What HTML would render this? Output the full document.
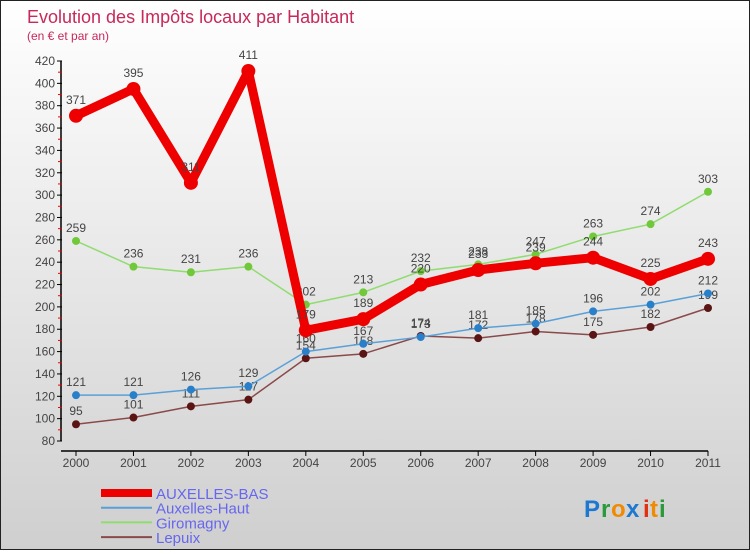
<!DOCTYPE html>
<html><head><meta charset="utf-8"><style>
html,body{margin:0;padding:0}
body{width:750px;height:550px;overflow:hidden;font-family:"Liberation Sans",sans-serif}
#wrap{position:relative;width:748px;height:548px;border:1px solid #222;background:linear-gradient(#ffffff,#cfcfcf)}
</style></head><body>
<div id="wrap">
<svg id="chart" width="748" height="548" xmlns="http://www.w3.org/2000/svg">
<text x="26" y="22" font-size="18" fill="#c8285a">Evolution des Impôts locaux par Habitant</text>
<text x="26" y="39" font-size="12" fill="#c8285a">(en € et par an)</text>
<g id="axes"></g><g id="series"></g><g id="legend"></g>
<g font-size="24" font-weight="bold">
<text x="583" y="516" fill="#1e78d2">P</text><text x="600" y="516" fill="#2a9a3a">r</text><text x="610" y="516" fill="#f08a00">o</text><text x="625" y="516" fill="#1e78d2">x</text><text x="642" y="516" fill="#e03010">i</text><text x="649" y="516" fill="#f08a00">t</text><text x="658" y="516" fill="#2a9a3a">i</text>
</g>
</svg>
</div>
<script>
const years=["2000","2001","2002","2003","2004","2005","2006","2007","2008","2009","2010","2011"];
const yTicks=[80,100,120,140,160,180,200,220,240,260,280,300,320,340,360,380,400,420];
const auxellesBas=[371,395,311,411,179,189,220,233,239,244,225,243];
const auxellesHaut=[121,121,126,129,160,167,173,181,185,196,202,212];
const giromagny=[259,236,231,236,202,213,232,238,247,263,274,303];
const lepuix=[95,101,111,117,154,158,174,172,178,175,182,199];
const NS="http://www.w3.org/2000/svg";
const x=i=>75+i*(632/11);
const y=v=>440-(v-80)*(380/340);
function mk(t,a,p){const e=document.createElementNS(NS,t);for(const k in a)e.setAttribute(k,a[k]);p.appendChild(e);return e;}
const ax=document.getElementById('axes');
let l=mk('line',{x1:60,y1:y(80),x2:60,y2:y(420),stroke:'#000','stroke-width':1.5},ax);


l=mk('line',{x1:60,y1:450,x2:x(11),y2:450,stroke:'#000','stroke-width':1.5},ax);


yTicks.forEach((v,i)=>{
  mk('line',{x1:56,y1:y(v),x2:61,y2:y(v),stroke:'#000'},ax);
  if(i<yTicks.length-1) mk('line',{x1:57,y1:y(v+10),x2:61,y2:y(v+10),stroke:'#e00'},ax);
  const t=mk('text',{x:54,y:y(v)+4,'font-size':12,fill:'#444','text-anchor':'end'},ax);
  t.textContent=v;
  
  
});
years.forEach((yr,i)=>{
  mk('line',{x1:x(i),y1:450,x2:x(i),y2:455,stroke:'#000'},ax);
  const t=mk('text',{x:x(i),y:466,'font-size':12,fill:'#444','text-anchor':'middle'},ax);
  t.textContent=yr;
  
  
});
const S=document.getElementById('series');
const defs=[
 {name:'lepuix',data:lepuix,c:'#8a4a4a',dot:'#5a1414',w:1.5,r:4},
 {name:'auxelles-haut',data:auxellesHaut,c:'#5aa0d8',dot:'#2a80c8',w:1.5,r:4},
 {name:'giromagny',data:giromagny,c:'#90dc70',dot:'#70c83a',w:1.5,r:4},
 {name:'auxelles-bas',data:auxellesBas,c:'#ee0000',dot:'#ee0000',w:9,r:7}];
defs.forEach(d=>{
  const g=mk('g',{},S);
  
  
  mk('polyline',{points:d.data.map((v,i)=>x(i)+','+y(v)).join(' '),fill:'none',stroke:d.c,'stroke-width':d.w,'stroke-linejoin':'round'},g);
  d.data.forEach((v,i)=>{
    const c=mk('circle',{cx:x(i),cy:y(v),r:d.r,fill:d.dot},g);
    
    
    const t=mk('text',{x:x(i),y:y(v)-(d.r+5),'font-size':12,fill:'#444','text-anchor':'middle'},g);
    t.textContent=v;
    
    
  });
});
const L=document.getElementById('legend');
const leg=[['AUXELLES-BAS','#ee0000',8],['Auxelles-Haut','#5aa0d8',2],['Giromagny','#90dc70',2],['Lepuix','#8a4a4a',2]];
leg.forEach((e,i)=>{
  const g=mk('g',{},L);
  
  
  const yy=492+i*14.7;
  mk('line',{x1:100,y1:yy,x2:151,y2:yy,stroke:e[1],'stroke-width':e[2]},g);
  const t=mk('text',{x:155,y:yy+6,'font-size':15,fill:'#6666ee'},g);
  t.textContent=e[0];
});
</script>
</body></html>
